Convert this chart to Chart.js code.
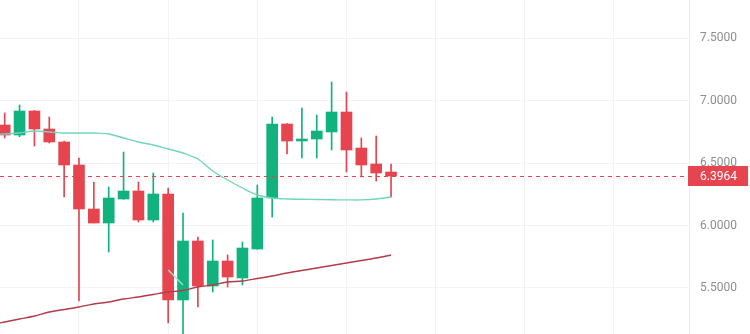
<!DOCTYPE html>
<html>
<head>
<meta charset="utf-8">
<script src="https://cdn.jsdelivr.net/npm/chart.js@4.4.1/dist/chart.umd.min.js"></script>
<style>
  html, body { margin: 0; padding: 0; background: #ffffff; }
  #wrap { width: 750px; height: 334px; }
</style>
</head>
<body>
<div id="wrap"><canvas id="c" width="750" height="334"></canvas></div>
<script>
// Candle slots (index 0 only carries moving-average history, no candle)
const candleIndex = [0,1,2,3,4,5,6,7,8,9,10,11,12,13,14,15,16,17,18,19,20,21,22,23,24,25,26,27];

const opens  = [null, 6.804, 6.724, 6.916, 6.772, 6.668, 6.484, 6.132, 6.020, 6.212, 6.276, 6.044, 6.252, 5.404, 5.876, 5.516, 5.716, 5.580, 5.812, 6.220, 6.812, 6.676, 6.692, 6.748, 6.908, 6.620, 6.492, 6.428];
const highs  = [null, 6.900, 6.964, 6.920, 6.868, 6.676, 6.540, 6.348, 6.308, 6.588, 6.348, 6.420, 6.300, 6.100, 5.908, 5.884, 5.764, 5.868, 6.324, 6.868, 6.816, 6.940, 6.884, 7.148, 7.068, 6.700, 6.716, 6.492];
const lows   = [null, 6.700, 6.710, 6.636, 6.660, 6.228, 5.396, 6.020, 5.788, 6.210, 6.028, 6.028, 5.220, 5.100, 5.348, 5.468, 5.508, 5.524, 5.810, 6.068, 6.572, 6.540, 6.540, 6.604, 6.428, 6.388, 6.356, 6.228];
const closes = [null, 6.724, 6.916, 6.772, 6.668, 6.484, 6.132, 6.020, 6.220, 6.276, 6.044, 6.252, 5.404, 5.876, 5.516, 5.716, 5.588, 5.820, 6.220, 6.812, 6.676, 6.692, 6.756, 6.908, 6.604, 6.484, 6.420, 6.3964];

// Moving averages
const maFast  = [6.730, 6.732, 6.740, 6.756, 6.748, 6.740, 6.740, 6.740, 6.732, 6.700, 6.668, 6.644, 6.612, 6.580, 6.532, 6.436, 6.364, 6.300, 6.244, 6.220, 6.212, 6.210, 6.208, 6.206, 6.205, 6.205, 6.212, 6.228];
const maSlow  = [5.206, 5.228, 5.252, 5.276, 5.308, 5.328, 5.348, 5.372, 5.388, 5.412, 5.428, 5.448, 5.468, 5.480, 5.508, 5.524, 5.548, 5.556, 5.576, 5.596, 5.620, 5.640, 5.660, 5.680, 5.700, 5.720, 5.740, 5.764];
const maShort = [null, null, null, null, null, null, null, null, null, null, null, null, 5.644, 5.524, null, null, null, null, null, null, null, null, null, null, null, null, null, null];

// Axis marks
const priceTicks = [5.5, 6.0, 6.5, 7.0, 7.5];
const timeGrid = [6, 12, 18, 24, 30, 36, 42];

const UP = '#12b27e';
const DOWN = '#e6444f';

const lastPrice = closes[closes.length - 1];

const bodies = [];
const wicks = [];
candleIndex.forEach(i => {
  if (opens[i] == null) return;
  const up = closes[i] >= opens[i];
  bodies.push({ x: i, y: [opens[i], closes[i]], up });
  wicks.push({ x: i, y: [lows[i], highs[i]], up });
});

const linePoints = arr => candleIndex
  .filter(i => arr[i] != null)
  .map(i => ({ x: i, y: arr[i] }));

const candleColor = ctx => (ctx.raw && ctx.raw.up) ? UP : DOWN;

const noPadding = s => {
  s.paddingTop = 0; s.paddingBottom = 0; s.paddingLeft = 0; s.paddingRight = 0;
};

const lastPriceMarker = {
  id: 'lastPriceMarker',
  afterDatasetsDraw(chart) {
    const { ctx, chartArea: a, scales: { y } } = chart;
    const py = Math.round(y.getPixelForValue(lastPrice)) + 0.5;
    ctx.save();
    ctx.strokeStyle = DOWN;
    ctx.lineWidth = 1;
    ctx.setLineDash([4, 4]);
    ctx.beginPath();
    ctx.moveTo(a.left, py);
    ctx.lineTo(a.right, py);
    ctx.stroke();
    ctx.restore();
  },
  afterDraw(chart) {
    const { ctx, chartArea: a, scales: { y } } = chart;
    const py = Math.round(y.getPixelForValue(lastPrice));
    ctx.save();
    ctx.fillStyle = DOWN;
    ctx.fillRect(a.right - 1, py - 10, 60, 20);
    ctx.fillStyle = '#ffffff';
    ctx.font = '12px Roboto, "Open Sans", sans-serif';
    ctx.textAlign = 'left';
    ctx.textBaseline = 'middle';
    ctx.fillText(lastPrice.toFixed(4), a.right + 11, py + 1);
    ctx.restore();
  }
};

new Chart(document.getElementById('c'), {
  type: 'bar',
  data: {
    datasets: [
      { type: 'line', data: linePoints(maFast), borderColor: '#6fd6bd', borderWidth: 1.4,
        pointRadius: 0, pointHoverRadius: 0, tension: 0.35, order: 0 },
      { type: 'line', data: linePoints(maSlow), borderColor: '#b23a4b', borderWidth: 1.4,
        pointRadius: 0, pointHoverRadius: 0, tension: 0.3, order: 0 },
      { type: 'line', data: linePoints(maShort), borderColor: '#9fe3cf', borderWidth: 1.2,
        pointRadius: 0, pointHoverRadius: 0, tension: 0, order: 0 },
      { type: 'bar', data: bodies, backgroundColor: candleColor, barThickness: 11,
        grouped: false, minBarLength: 1, borderWidth: 0, order: 1 },
      { type: 'bar', data: wicks, backgroundColor: candleColor, barThickness: 1,
        grouped: false, borderWidth: 0, order: 2 }
    ]
  },
  options: {
    responsive: false,
    animation: false,
    devicePixelRatio: 1,
    layout: { padding: 0, autoPadding: false },
    plugins: { legend: { display: false }, tooltip: { enabled: false } },
    scales: {
      x: {
        type: 'linear',
        min: 0.684,
        max: 47.05,
        offset: false,
        grid: { color: '#f3f3f3', drawTicks: false, offset: false },
        border: { display: false },
        ticks: { display: false },
        afterBuildTicks: s => { s.ticks = timeGrid.map(v => ({ value: v })); },
        afterFit: s => { s.height = 0; noPadding(s); }
      },
      y: {
        position: 'right',
        min: 5.132,
        max: 7.804,
        grid: { color: '#f3f3f3', drawTicks: false },
        border: { display: true, color: '#ebebeb' },
        ticks: {
          padding: 11,
          color: '#8e8e8e',
          font: { family: 'Roboto, "Open Sans", sans-serif', size: 12 },
          callback: v => Number(v).toFixed(4)
        },
        afterBuildTicks: s => { s.ticks = priceTicks.map(v => ({ value: v })); },
        afterFit: s => { s.width = 61; noPadding(s); }
      }
    }
  },
  plugins: [lastPriceMarker]
});
</script>
</body>
</html>
